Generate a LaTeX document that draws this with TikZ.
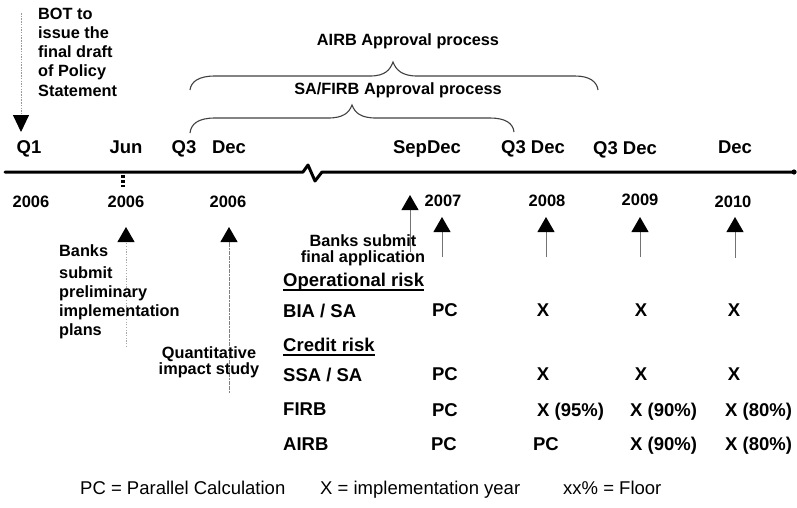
\documentclass[tikz,border=0pt]{standalone}
\usepackage{fontspec}
\setmainfont{Liberation Sans}
\usetikzlibrary{arrows.meta}
\begin{document}
\begin{tikzpicture}[x=1pt,y=-1pt,
  lbl/.style={font=\bfseries\fontsize{16.3}{19.3}\selectfont, inner sep=0pt},
  lbltight/.style={font=\bfseries\fontsize{16.3}{16.3}\selectfont, inner sep=0pt},
  mon/.style={font=\bfseries\fontsize{18.5}{22}\selectfont, inner sep=0pt, anchor=base},
  yr/.style={font=\bfseries\fontsize{16.5}{20}\selectfont, inner sep=0pt, anchor=base},
  tbl/.style={font=\bfseries\fontsize{18.5}{22}\selectfont, inner sep=0pt, anchor=base},
  tblw/.style={tbl, anchor=base west},
  leg/.style={font=\fontsize{18.5}{22}\selectfont, inner sep=0pt, anchor=base west},
  uparrow/.style={draw=black!55, line width=1pt, -{Triangle[width=17pt,length=15pt,color=black]}},
  faintarrow/.style={draw=black!35, line width=1pt, dash pattern=on 1.2pt off 1.5pt, -{Triangle[width=17pt,length=15pt,color=black]}},
  brace/.style={draw=black!75, line width=1.1pt},
  uline/.style={line width=1.6pt},
]
\useasboundingbox (0,0) rectangle (797,507);

% timeline
\draw[line width=3pt, line join=round, line cap=round] (5,172) -- (303,172) -- (308,165) -- (315,181) -- (322,172) -- (794,172);
\fill (794,172) circle (2.6pt);
\draw[line width=3.5pt, dash pattern=on 3pt off 2pt] (123,175) -- (123,187);

% braces
\draw[brace] (190,133) .. controls (191,124) and (198,118) .. (215,118) -- (328,118) .. controls (343,118) and (349,113) .. (352,105) .. controls (355,113) and (361,118) .. (376,118) -- (490,118) .. controls (505,118) and (513,123) .. (514,132);
\draw[brace] (190,90) .. controls (191,82) and (198,76) .. (215,76) -- (370,76) .. controls (385,76) and (390,70) .. (393,62) .. controls (396,70) and (402,76) .. (417,76) -- (575,76) .. controls (590,76) and (597,82) .. (598,90);
\node[lbl, anchor=base] (airbproc) at (408,45) {AIRB Approval process};
\node[lbl, anchor=base] (safirbproc) at (398,94) {SA/FIRB Approval process};

% BOT
\node[lbl, align=left, anchor=north west] (bot) at (38,7.5) {BOT to\\issue the\\final draft\\of Policy\\Statement};
\coordinate (q1top) at (21,13);
\coordinate (q1tip) at (21,132);
\draw[draw=black!40, line width=1pt, dash pattern=on 1.5pt off 1.2pt, -{Triangle[width=16pt,length=17pt,color=black]}] (q1top) -- (q1tip);

% months
\node[mon] (mq1) at (29,153) {Q1};
\node[mon] (mjun) at (126,153) {Jun};
\node[mon] (mq3a) at (184,153) {Q3};
\node[mon] (mdeca) at (229,153) {Dec};
\node[mon] (msep) at (427,153) {SepDec};
\node[mon] (mq3b) at (533,153) {Q3 Dec};
\node[mon] (mq3c) at (625,154.5) {Q3 Dec};
\node[mon] (mdecd) at (735,153) {Dec};

% years
\node[yr] (y1) at (31,207) {2006};
\node[yr] (y2) at (126,207) {2006};
\node[yr] (y3) at (228,207) {2006};
\node[yr] (y4) at (443,206) {2007};
\node[yr] (y5) at (547,206) {2008};
\node[yr] (y6) at (640,205) {2009};
\node[yr] (y7) at (733,207) {2010};

% arrows
\coordinate (junB) at (126,347); \coordinate (junT) at (126,227);
\coordinate (decB) at (229,393); \coordinate (decT) at (229,227);
\coordinate (sepB) at (410,252); \coordinate (sepT) at (410,195);
\coordinate (a7B) at (442,257); \coordinate (a7T) at (442,217);
\coordinate (a8B) at (546,257); \coordinate (a8T) at (546,217);
\coordinate (a9B) at (640,257); \coordinate (a9T) at (640,217);
\coordinate (a10B) at (735,258); \coordinate (a10T) at (735,217);
\draw[faintarrow] (junB) -- (junT);
\draw[uparrow, draw=black!50, dash pattern=on 2pt off 0.6pt] (decB) -- (decT);
\draw[uparrow] (sepB) -- (sepT);
\draw[uparrow] (a7B) -- (a7T);
\draw[uparrow] (a8B) -- (a8T);
\draw[uparrow] (a9B) -- (a9T);
\draw[uparrow] (a10B) -- (a10T);

% annotations
\node[lbl, align=left, anchor=north west] (prelim) at (59,244) {Banks\\[2.7pt]submit\\preliminary\\implementation\\plans};
\node[lbltight, align=center, anchor=north] (finalapp) at (363,234.6) {Banks submit\\final application};
\node[lbltight, align=center, anchor=north] (qis) at (209,346) {Quantitative\\impact study};

% table
\node[tblw] (oprisk) at (283,286) {Operational risk};
\draw[uline] ([yshift=-4pt]oprisk.base west) -- ([yshift=-4pt]oprisk.base east);
\node[tblw] (biasa) at (283,317) {BIA / SA};
\node[tblw] (crrisk) at (283,351) {Credit risk};
\draw[uline] ([yshift=-4pt]crrisk.base west) -- ([yshift=-4pt]crrisk.base east);
\node[tblw] (ssasa) at (283,381) {SSA / SA};
\node[tblw] (firb) at (283,415) {FIRB};
\node[tblw] (airb) at (283,450) {AIRB};

\node[tbl] (pc1) at (445,316) {PC};
\node[tbl] (x1a) at (543,316) {X};
\node[tbl] (x1b) at (641,316) {X};
\node[tbl] (x1c) at (734,316) {X};

\node[tbl] (pc2) at (445,380) {PC};
\node[tbl] (x2a) at (543,380) {X};
\node[tbl] (x2b) at (641,380) {X};
\node[tbl] (x2c) at (734,380) {X};

\node[tbl] (pc3) at (445,416) {PC};
\node[tblw] (x3a) at (537,416) {X (95\%)};
\node[tblw] (x3b) at (630,416) {X (90\%)};
\node[tblw] (x3c) at (725,416) {X (80\%)};

\node[tbl] (pc4) at (444,450) {PC};
\node[tbl] (pc4b) at (546,450) {PC};
\node[tblw] (x4b) at (630,450) {X (90\%)};
\node[tblw] (x4c) at (725,450) {X (80\%)};

% legend
\node[leg] (leg1) at (80,494) {PC = Parallel Calculation};
\node[leg] (leg2) at (320,494) {X = implementation year};
\node[leg] (leg3) at (563,494) {xx\% = Floor};
\end{tikzpicture}
\end{document}
